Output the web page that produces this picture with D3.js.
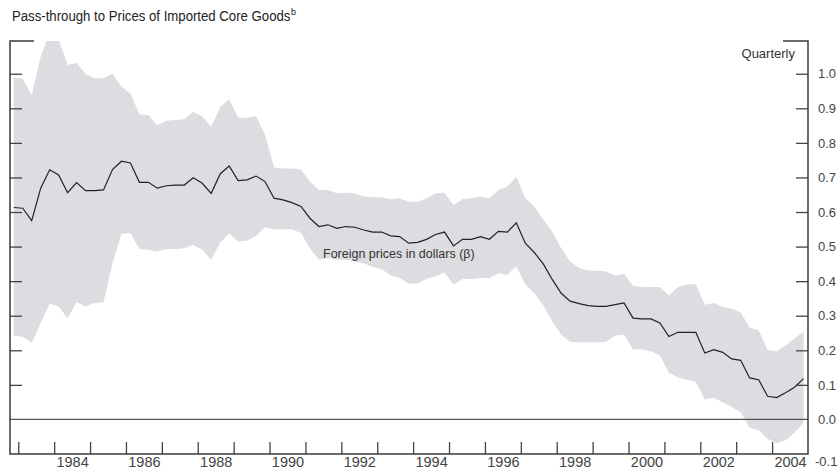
<!DOCTYPE html>
<html>
<head>
<meta charset="utf-8">
<script src="https://cdn.jsdelivr.net/npm/d3@7"></script>
<style>
  body { margin: 0; background: #fff; }
  svg { display: block; }
  .tick text { font-family: "Liberation Sans", Arial, sans-serif; fill: #444; }
</style>
</head>
<body>
<svg id="chart" width="839" height="470"></svg>
<script>
// Quarterly estimates, 1982Q4 .. 2004Q4
const startYear = 1982, startQuarter = 4;
const beta = [
  0.613, 0.611, 0.575, 0.669, 0.722, 0.707, 0.656, 0.685, 0.662, 0.662,
  0.664, 0.723, 0.747, 0.742, 0.686, 0.686, 0.669, 0.676, 0.678, 0.678,
  0.699, 0.683, 0.654, 0.710, 0.733, 0.691, 0.693, 0.704, 0.688, 0.640,
  0.635, 0.627, 0.616, 0.582, 0.558, 0.563, 0.553, 0.558, 0.556, 0.548,
  0.542, 0.542, 0.531, 0.529, 0.510, 0.512, 0.521, 0.535, 0.542, 0.502,
  0.521, 0.521, 0.529, 0.521, 0.544, 0.542, 0.569, 0.510, 0.483, 0.450,
  0.405, 0.365, 0.342, 0.335, 0.329, 0.327, 0.327, 0.332, 0.337, 0.293,
  0.291, 0.291, 0.279, 0.240, 0.252, 0.252, 0.252, 0.192, 0.202, 0.194,
  0.175, 0.171, 0.120, 0.115, 0.067, 0.063, 0.077, 0.093, 0.118
];
const upper = [
  0.988, 0.986, 0.938, 1.049, 1.120, 1.100, 1.025, 1.031, 0.999, 0.986,
  0.988, 1.000, 0.962, 0.943, 0.883, 0.880, 0.851, 0.864, 0.866, 0.868,
  0.890, 0.877, 0.847, 0.904, 0.926, 0.873, 0.873, 0.877, 0.823, 0.729,
  0.726, 0.726, 0.723, 0.688, 0.664, 0.664, 0.654, 0.656, 0.654, 0.645,
  0.643, 0.643, 0.637, 0.640, 0.630, 0.630, 0.640, 0.654, 0.656, 0.620,
  0.637, 0.640, 0.645, 0.640, 0.664, 0.673, 0.702, 0.640, 0.616, 0.578,
  0.543, 0.495, 0.457, 0.438, 0.431, 0.430, 0.428, 0.416, 0.421, 0.387,
  0.383, 0.383, 0.383, 0.358, 0.383, 0.390, 0.392, 0.332, 0.337, 0.325,
  0.320, 0.310, 0.265, 0.258, 0.201, 0.197, 0.213, 0.234, 0.254
];
const lower = [
  0.242, 0.239, 0.221, 0.279, 0.335, 0.327, 0.293, 0.339, 0.327, 0.337,
  0.339, 0.452, 0.537, 0.539, 0.493, 0.491, 0.486, 0.493, 0.493, 0.495,
  0.505, 0.491, 0.462, 0.512, 0.537, 0.515, 0.517, 0.531, 0.556, 0.550,
  0.550, 0.550, 0.539, 0.495, 0.462, 0.467, 0.462, 0.462, 0.457, 0.452,
  0.441, 0.435, 0.416, 0.409, 0.393, 0.393, 0.406, 0.414, 0.425, 0.390,
  0.406, 0.406, 0.409, 0.409, 0.423, 0.418, 0.443, 0.390, 0.366, 0.330,
  0.283, 0.245, 0.225, 0.223, 0.223, 0.223, 0.225, 0.243, 0.245, 0.202,
  0.202, 0.197, 0.185, 0.135, 0.122, 0.115, 0.108, 0.058, 0.063, 0.050,
  0.036, 0.021, -0.024, -0.031, -0.056, -0.069, -0.060, -0.038, -0.010
];
const yTicks = [-0.1, 0.0, 0.1, 0.2, 0.3, 0.4, 0.5, 0.6, 0.7, 0.8, 0.9, 1.0];
const yearTicks = d3.range(1983, 2005);
const yearLabels = [1984, 1986, 1988, 1990, 1992, 1994, 1996, 1998, 2000, 2002, 2004];

// quarter midpoints as decimal years
const data = beta.map((b, i) => {
  const q = (startQuarter - 1) + i;
  return { t: startYear + q / 4 + 0.125, b: b, hi: upper[i], lo: lower[i] };
});

const svg = d3.select("#chart");
const plotLeft = 10, plotRight = 808, plotTop = 41, plotBottom = 454;

const x = d3.scaleLinear().domain([1982.77, 2005]).range([plotLeft, plotRight]);
const y = d3.scaleLinear().domain([-0.1, 1.0947]).range([plotBottom, plotTop]);

// title (condensed face in the original, so squeeze it horizontally)
svg.append("g")
  .attr("transform", "translate(12,21) scale(0.88,1)")
  .append("text")
  .style("font-family", "'Liberation Sans', Arial, sans-serif")
  .style("font-size", "15px")
  .style("fill", "#222")
  .text("Pass-through to Prices of Imported Core Goods");
svg.append("text")
  .attr("x", 291).attr("y", 15)
  .style("font-family", "'Liberation Sans', Arial, sans-serif")
  .style("font-size", "9px")
  .style("fill", "#222")
  .text("b");

svg.append("clipPath").attr("id", "plot")
  .append("rect")
  .attr("x", plotLeft).attr("y", plotTop)
  .attr("width", plotRight - plotLeft).attr("height", plotBottom - plotTop);

// confidence band
const area = d3.area()
  .x(d => x(d.t))
  .y0(d => y(d.lo))
  .y1(d => y(d.hi));

svg.append("path")
  .datum(data)
  .attr("clip-path", "url(#plot)")
  .attr("d", area)
  .attr("fill", "#dcdde0");

// zero line
svg.append("line")
  .attr("x1", plotLeft).attr("x2", plotRight)
  .attr("y1", y(0)).attr("y2", y(0))
  .attr("stroke", "#555").attr("stroke-width", 1.3);

// beta line
const line = d3.line()
  .x(d => x(d.t))
  .y(d => y(d.b));

svg.append("path")
  .datum(data)
  .attr("d", line)
  .attr("fill", "none")
  .attr("stroke", "#222")
  .attr("stroke-width", 1.2);

svg.append("text")
  .attr("x", 323).attr("y", 258)
  .style("font-family", "'Liberation Sans', Arial, sans-serif")
  .style("font-size", "12.5px")
  .style("fill", "#333")
  .text("Foreign prices in dollars (\u03b2)");

// left axis: ticks only
const yLeft = svg.append("g")
  .attr("transform", `translate(${plotLeft},0)`)
  .call(d3.axisLeft(y).tickValues(yTicks.filter(v => v > 0.05))
    .tickSizeInner(-12).tickSizeOuter(0).tickFormat(""));
yLeft.select(".domain").remove();

// right axis: inward ticks + labels
const yRight = svg.append("g")
  .attr("transform", `translate(${plotRight},0)`)
  .call(d3.axisRight(y).tickValues(yTicks)
    .tickSizeInner(-12).tickSizeOuter(0).tickPadding(10)
    .tickFormat(d => d.toFixed(1)));
yRight.select(".domain").remove();
yRight.selectAll(".tick line").filter(d => d < 0.05).remove();
yRight.selectAll(".tick text").style("font-size", "13px");
yRight.selectAll(".tick").filter(d => d < -0.05).select("text")
  .attr("x", 7).attr("dy", "0.85em");

// bottom axis: year ticks pointing up
const xTicks = svg.append("g")
  .attr("transform", `translate(0,${plotBottom})`)
  .call(d3.axisBottom(x).tickValues(yearTicks)
    .tickSizeInner(-12).tickSizeOuter(0).tickFormat(""));
xTicks.select(".domain").remove();

// year labels centred in the year
const xLabels = svg.append("g")
  .attr("transform", `translate(0,${plotBottom})`)
  .call(d3.axisBottom(x).tickValues(yearLabels.map(v => v + 0.5))
    .tickSize(0).tickPadding(3).tickFormat(d => Math.floor(d)));
xLabels.select(".domain").remove();
xLabels.selectAll(".tick text").style("font-size", "14.5px");

svg.selectAll(".tick line").attr("stroke", "#444").attr("stroke-width", 1.3);

// frame
const frame = svg.append("g")
  .attr("fill", "none")
  .attr("stroke", "#3a3a3a")
  .attr("stroke-width", 1.5);
frame.append("path")
  .attr("d", `M${plotLeft + 24},${plotTop}H${plotLeft}V${plotBottom}H${plotRight}V${plotTop}H${plotRight - 25}`);

svg.append("text")
  .attr("x", 795).attr("y", 58)
  .attr("text-anchor", "end")
  .style("font-family", "'Liberation Sans', Arial, sans-serif")
  .style("font-size", "13px")
  .style("fill", "#333")
  .text("Quarterly");
</script>
</body>
</html>
